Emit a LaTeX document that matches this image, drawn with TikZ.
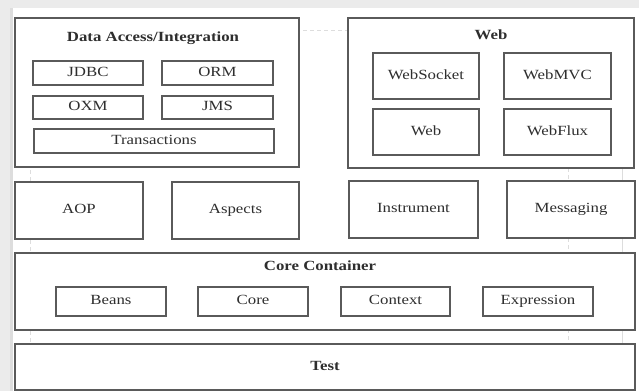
\documentclass[tikz,border=0pt]{standalone}
\usepackage{fontspec}
\setmainfont{Liberation Serif}[FakeStretch=1.2]
\definecolor{edge}{HTML}{5A5A5A}
\definecolor{ink}{HTML}{2E2E2E}
\definecolor{bgband}{HTML}{EBEBEB}
\definecolor{faint}{HTML}{DDDDDD}
\tikzset{
  box/.style={draw=edge, line width=1.2pt, fill=white, inner sep=0pt, text=ink,
    text height=9.5pt, text depth=3pt,
    font=\fontsize{14}{16}\selectfont},
  title/.style={inner sep=0pt, text=ink, text height=9.5pt, text depth=3pt,
    font=\fontsize{14}{16}\selectfont\bfseries},
  ghost/.style={draw=faint, line width=0.6pt, dash pattern=on 4pt off 3pt}
}
\begin{document}
\begin{tikzpicture}[x=1pt,y=-1pt]
\useasboundingbox (0,0) rectangle (639,391);
\fill[white] (0,0) rectangle (639,391);
% background artifacts
\fill[bgband] (0,0) rectangle (639,8);
\fill[bgband] (0,0) rectangle (12,391);
\fill[faint] (10,8) rectangle (13,391);
\draw[ghost] (30,30) -- (348,30);
\draw[ghost] (30,30) -- (30,344);
\draw[ghost] (568,168) -- (568,344);
\draw[faint, line width=0.6pt] (622,168) -- (622,391);

% Data Access / Integration
\node[box, minimum width=284, minimum height=149] (da) at (157,92.5) {};
\node[title] (daT) at (153,38) {Data Access/Integration};
\node[box, minimum width=110, minimum height=24] (jdbc) at (88,73) {JDBC};
\node[box, minimum width=111, minimum height=24] (orm) at (217.5,73) {ORM};
\node[box, minimum width=110, minimum height=23] (oxm) at (88,107.5) {OXM};
\node[box, minimum width=111, minimum height=23] (jms) at (217.5,107.5) {JMS};
\node[box, minimum width=240, minimum height=24] (tx) at (154,141) {Transactions};

% Web
\node[box, minimum width=286, minimum height=150] (web) at (491,93) {};
\node[title] (webT) at (491,36) {Web};
\node[box, minimum width=106, minimum height=46] (ws) at (426,76) {WebSocket};
\node[box, minimum width=107, minimum height=46] (mvc) at (557.5,76) {WebMVC};
\node[box, minimum width=106, minimum height=46] (wb) at (426,132) {Web};
\node[box, minimum width=107, minimum height=46] (flux) at (557.5,132) {WebFlux};

% Middle row
\node[box, minimum width=128, minimum height=57] (aop) at (79,210.5) {AOP};
\node[box, minimum width=127, minimum height=57] (asp) at (235.5,210.5) {Aspects};
\node[box, minimum width=129, minimum height=57] (ins) at (413.5,209.5) {Instrument};
\node[box, minimum width=128, minimum height=57] (msg) at (571,209.5) {Messaging};

% Core Container
\node[box, minimum width=620, minimum height=77] (cc) at (325,291.5) {};
\node[title] (ccT) at (320,267) {Core Container};
\node[box, minimum width=110, minimum height=29] (beans) at (111,301.5) {Beans};
\node[box, minimum width=110, minimum height=29] (core) at (253,301.5) {Core};
\node[box, minimum width=109, minimum height=29] (ctx) at (395.5,301.5) {Context};
\node[box, minimum width=110, minimum height=29] (expr) at (538,301.5) {Expression};

% Test
\node[box, minimum width=620, minimum height=46, font=\fontsize{14}{16}\selectfont\bfseries] (test) at (325,367) {Test};
\end{tikzpicture}
\end{document}
